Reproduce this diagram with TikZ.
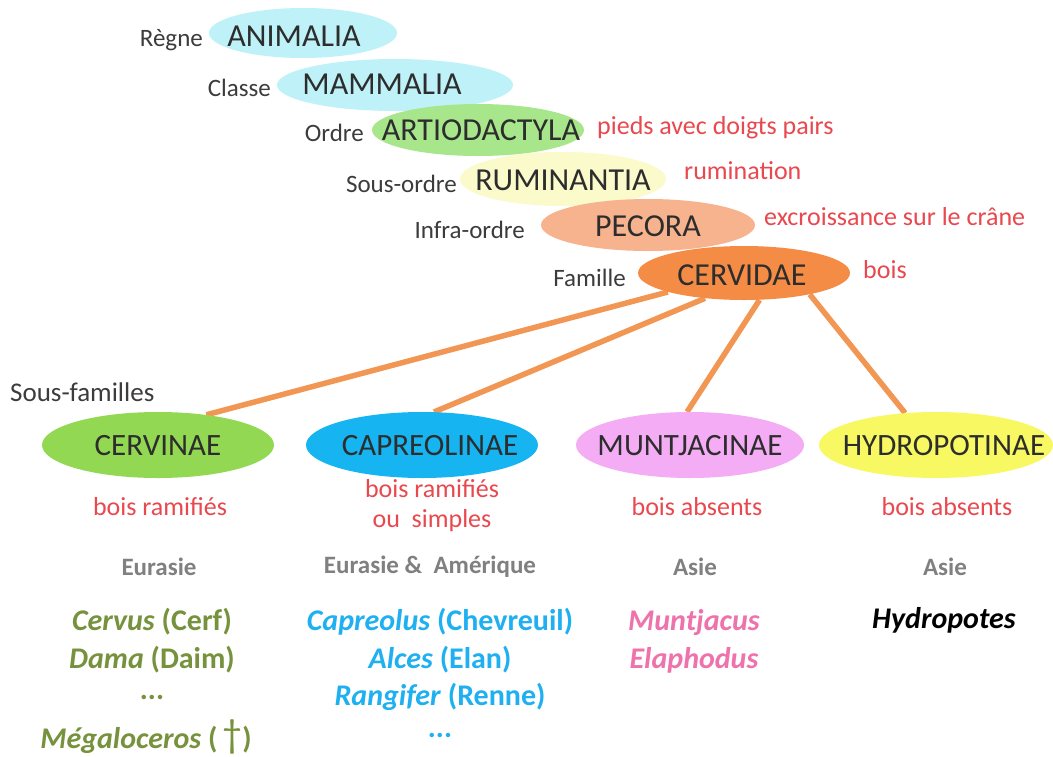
\documentclass[tikz,border=0pt]{standalone}
\usepackage{fontspec}
\setmainfont{Carlito}
\usetikzlibrary{shapes.geometric,backgrounds}
\definecolor{cyanE}{RGB}{190,242,248}
\definecolor{greenE}{RGB}{168,230,140}
\definecolor{yellowE}{RGB}{250,250,202}
\definecolor{salmonE}{RGB}{247,178,142}
\definecolor{orangeE}{RGB}{245,140,70}
\definecolor{cervinaeE}{RGB}{146,216,82}
\definecolor{capreoE}{RGB}{22,180,240}
\definecolor{muntE}{RGB}{244,172,244}
\definecolor{hydroE}{RGB}{248,248,98}
\definecolor{lineC}{RGB}{242,150,84}
\definecolor{redC}{RGB}{232,72,78}
\definecolor{grayC}{RGB}{128,128,128}
\definecolor{labC}{RGB}{60,60,60}
\definecolor{txtC}{RGB}{45,45,45}
\definecolor{greenT}{RGB}{118,146,60}
\definecolor{blueT}{RGB}{30,176,240}
\definecolor{pinkT}{RGB}{238,114,171}
\newcommand\fsz[1]{\fontsize{#1}{#1}\selectfont}
\begin{document}
\begin{tikzpicture}[x=1pt,y=-1pt,
  ell/.style={ellipse,inner sep=0pt,draw=none},
  sub/.style={ellipse,inner sep=0pt,draw=none,minimum width=232,minimum height=66},
  taxname/.style={inner sep=0pt,text=txtC,font={\fsz{32}}},
  subname/.style={inner sep=0pt,text=txtC,font={\fsz{31}}},
  lab/.style={text=labC,font={\fsz{25}},anchor=east,inner sep=0pt},
  trait/.style={text=redC,font={\fsz{26}},anchor=west,inner sep=0pt},
  trait2/.style={text=redC,font={\fontsize{26}{30}\selectfont},align=center,inner sep=0pt},
  region/.style={text=grayC,font={\bfseries\fsz{25}},inner sep=0pt},
  species/.style={font={\bfseries\fsz{30}},inner sep=0pt},
  link/.style={draw=lineC,line width=5.5pt}]
\useasboundingbox (0,0) rectangle (1053,756);

% top hierarchy
\node[ell,fill=cyanE,minimum width=188,minimum height=50] (animalia) at (303,33) {};
\node[taxname] (animaliaT) at (294,36) {ANIMALIA};
\node[ell,fill=cyanE,minimum width=236,minimum height=52] (mammalia) at (395,85) {};
\node[taxname] (mammaliaT) at (382,84) {MAMMALIA};
\node[ell,fill=greenE,minimum width=212,minimum height=52] (artio) at (478,130) {};
\node[taxname] (artioT) at (481,130) {ARTIODACTYLA};
\node[ell,fill=yellowE,minimum width=206,minimum height=54] (rumin) at (563,179) {};
\node[taxname] (ruminT) at (563,180) {RUMINANTIA};
\node[ell,fill=salmonE,minimum width=214,minimum height=52] (pecora) at (648,225) {};
\node[taxname] (pecoraT) at (648,226) {PECORA};
\node[ell,fill=orangeE,minimum width=212,minimum height=54] (cervidae) at (744,273) {};
\node[taxname] (cervidaeT) at (742,275) {CERVIDAE};

% rank labels
\node[lab] (regne) at (203,40) {Règne};
\node[lab] (classe) at (271,88) {Classe};
\node[lab] (ordre) at (364,133) {Ordre};
\node[lab] (sousordre) at (457,184) {Sous-ordre};
\node[lab] (infra) at (525,230) {Infra-ordre};
\node[lab] (famille) at (626,278) {Famille};
\node[text=labC,font={\fsz{27}},anchor=west,inner sep=0pt] (sousfam) at (10,392) {Sous-familles};

% traits
\node[trait] (t1) at (597,128) {pieds avec doigts pairs};
\node[trait] (t2) at (684,171) {rumination};
\node[trait] (t3) at (764,217) {excroissance sur le crâne};
\node[trait] (t4) at (863,270) {bois};

% sub-families
\node[sub,fill=cervinaeE] (cervinae) at (158,445) {};
\node[subname] (cervinaeT) at (158,446) {CERVINAE};
\node[sub,fill=capreoE] (capreo) at (422,445) {};
\node[subname] (capreoT) at (430,446) {CAPREOLINAE};
\node[sub,fill=muntE,minimum width=228] (munt) at (690,445) {};
\node[subname] (muntT) at (690,446) {MUNTJACINAE};
\node[sub,fill=hydroE,minimum width=234] (hydro) at (936,445) {};
\node[subname] (hydroT) at (944,446) {HYDROPOTINAE};

% connectors
\begin{scope}[on background layer]
\fill[white] (0,0) rectangle (1053,756);
\draw[link] (cervidae.194) -- (cervinae.32);
\draw[link] (cervidae.213) -- (capreo.70);
\draw[link] (cervidae.300) -- (munt.95);
\draw[link] (cervidae.342) -- (hydro.134);
\end{scope}

% sub-family traits
\node[trait2] (b1) at (160,507) {bois ramifiés};
\node[trait2] (b2) at (432,506) {bois ramifiés\\ou\ \ simples};
\node[trait2] (b3) at (697,507) {bois absents};
\node[trait2] (b4) at (947,507) {bois absents};

% regions
\node[region] (r1) at (159,567) {Eurasie};
\node[region] (r2) at (430,567) {Eurasie \&\ \ Amérique};
\node[region] (r3) at (695,567) {Asie};
\node[region] (r4) at (945,567) {Asie};

% genera
\node[species,text=greenT] (g1) at (152,622) {\textit{Cervus} (Cerf)};
\node[species,text=greenT] (g2) at (152,660) {\textit{Dama} (Daim)};
\node[species,text=greenT] (g3) at (152,697) {...};
\node[species,text=greenT] (g4) at (146,737) {\textit{Mégaloceros} (\,{\mdseries\fontsize{40}{40}\selectfont\raisebox{1pt}{†}})};

\node[species,text=blueT] (c1) at (440,622) {\textit{Capreolus} (Chevreuil)};
\node[species,text=blueT] (c2) at (440,660) {\textit{Alces} (Elan)};
\node[species,text=blueT] (c3) at (440,697) {\textit{Rangifer} (Renne)};
\node[species,text=blueT] (c4) at (440,735) {...};

\node[species,text=pinkT] (m1) at (694,622) {\textit{Muntjacus}};
\node[species,text=pinkT] (m2) at (694,660) {\textit{Elaphodus}};

\node[species,text=black] (h1) at (944,620) {\textit{Hydropotes}};
\end{tikzpicture}
\end{document}
